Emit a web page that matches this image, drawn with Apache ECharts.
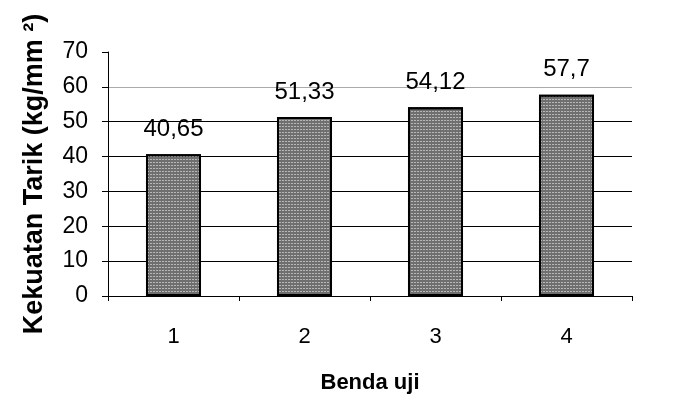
<!DOCTYPE html>
<html>
<head>
<meta charset="utf-8">
<script src="https://cdn.jsdelivr.net/npm/echarts@6/dist/echarts.min.js"></script>
<style>html,body{margin:0;padding:0;background:#fff;}#c{width:682px;height:399px;}</style>
</head>
<body>
<div id="c"></div>
<script>
var categories = ['1', '2', '3', '4'];
var values = [40.65, 51.33, 54.12, 57.7];
var yTicks = [0, 10, 20, 30, 40, 50, 60, 70];
var yName = 'Kekuatan Tarik (kg/mm ²)';
var xName = 'Benda uji';

var FONT = '"Liberation Sans", Arial, sans-serif';
var chart = echarts.init(document.getElementById('c'), null, {renderer: 'canvas'});
chart.setOption({
  animation: false,
  backgroundColor: '#fff',
  grid: {left: 108, right: 50, top: 52, bottom: 98, containLabel: false},
  xAxis: {
    type: 'category',
    data: categories,
    name: xName,
    nameLocation: 'middle',
    nameGap: 76,
    nameTextStyle: {fontFamily: FONT, fontSize: 22, fontWeight: 'bold', color: '#000'},
    axisLine: {lineStyle: {color: '#000', width: 1}},
    axisTick: {show: true, length: 5, lineStyle: {color: '#000'}},
    axisLabel: {fontFamily: FONT, fontSize: 22, color: '#000', margin: 30},
    splitLine: {show: false}
  },
  yAxis: {
    type: 'value',
    min: yTicks[0],
    max: yTicks[yTicks.length - 1],
    interval: 10,
    name: yName,
    nameLocation: 'middle',
    nameGap: 60,
    nameTextStyle: {fontFamily: FONT, fontSize: 27, fontWeight: 'bold', color: '#000'},
    axisLine: {show: true, lineStyle: {color: '#000', width: 1}},
    axisTick: {show: true, inside: false, length: 6, lineStyle: {color: '#000'}},
    axisLabel: {fontFamily: FONT, fontSize: 23, color: '#000', margin: 20},
    splitLine: {show: true, lineStyle: {color: ['#000', '#000', '#000', '#000', '#000', '#000', '#aaa', 'rgba(0,0,0,0)'], width: 1}}
  },
  series: [{
    type: 'bar',
    data: values,
    barWidth: '42%',
    itemStyle: {
      color: '#6f6f6f', borderColor: '#000', borderWidth: 2,
      decal: {symbol: 'rect', symbolSize: 1, color: 'rgba(255,255,255,0.5)', dashArrayX: [2, 1], dashArrayY: [1, 2], rotation: 0}
    },
    label: {
      show: true,
      position: 'top',
      distance: 13,
      fontFamily: FONT,
      fontSize: 24,
      color: '#000',
      formatter: function (p) { return String(p.value).replace('.', ','); }
    }
  }]
});
</script>
</body>
</html>
